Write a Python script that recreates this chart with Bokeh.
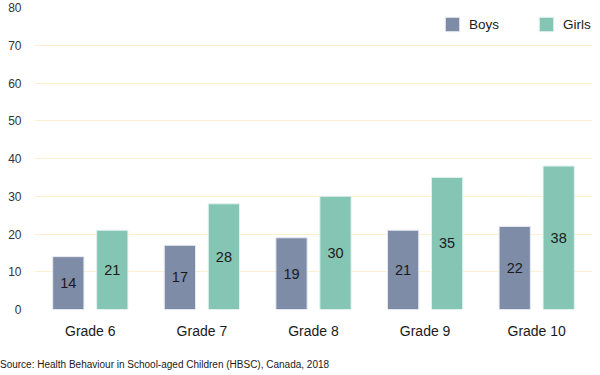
from bokeh.plotting import figure
from bokeh.models import ColumnDataSource, Range1d, FactorRange, Legend, LegendItem, Div
from bokeh.layouts import column
from bokeh.transform import dodge
from bokeh.core.properties import value
from bokeh.embed import file_html
from bokeh.resources import INLINE

grades = ["Grade 6", "Grade 7", "Grade 8", "Grade 9", "Grade 10"]
boys = [14, 17, 19, 21, 22]
girls = [21, 28, 30, 35, 38]
y_ticks = [0, 10, 20, 30, 40, 50, 60, 70, 80]
source_note = "Source: Health Behaviour in School-aged Children (HBSC), Canada, 2018"

BOYS_COLOR = "#7f8ca8"
GIRLS_COLOR = "#84c5b4"
FONT = "Liberation Sans"

src = ColumnDataSource(dict(
    grade=grades,
    boys=boys,
    girls=girls,
    boys_mid=[v / 2 for v in boys],
    girls_mid=[v / 2 for v in girls],
    boys_txt=[str(v) for v in boys],
    girls_txt=[str(v) for v in girls],
))

p = figure(width=600, height=355, x_range=FactorRange(*grades), y_range=Range1d(0, 80),
           output_backend="svg", toolbar_location=None,
           min_border_left=34, min_border_right=8, min_border_top=7, min_border_bottom=46)
p.outline_line_color = None
p.background_fill_color = "white"

off = 0.197
bw = 0.28
rb = p.vbar(x=dodge("grade", -off, range=p.x_range), top="boys", width=bw, source=src,
            fill_color=BOYS_COLOR, line_color="#e6e9ef", line_width=1)
rg = p.vbar(x=dodge("grade", off, range=p.x_range), top="girls", width=bw, source=src,
            fill_color=GIRLS_COLOR, line_color="#e3f1ed", line_width=1)

p.text(x=dodge("grade", -off, range=p.x_range), y="boys_mid", text="boys_txt", source=src,
       text_align="center", text_baseline="middle", text_font=value(FONT),
       text_font_size="14.5px", text_color="#1a1a1a")
p.text(x=dodge("grade", off, range=p.x_range), y="girls_mid", text="girls_txt", source=src,
       text_align="center", text_baseline="middle", text_font=value(FONT),
       text_font_size="14.5px", text_color="#1a1a1a")

p.xgrid.grid_line_color = None
p.ygrid.grid_line_color = "#fcefd2"
p.ygrid.grid_line_width = 1
p.yaxis.ticker = y_ticks

for ax in (p.xaxis[0], p.yaxis[0]):
    ax.axis_line_color = None
    ax.major_tick_line_color = None
    ax.minor_tick_line_color = None
    ax.major_label_text_font = FONT

p.yaxis.major_label_text_font_size = "12px"
p.yaxis.major_label_text_color = "#333333"
p.yaxis.major_label_standoff = 7
p.xaxis.major_label_text_font_size = "14px"
p.xaxis.major_label_text_color = "#1a1a1a"
p.xaxis.major_label_standoff = 7

legend = Legend(items=[LegendItem(label="Boys", renderers=[rb]),
                       LegendItem(label="Girls", renderers=[rg])],
                orientation="horizontal", location=(409, 276),
                border_line_color=None, background_fill_alpha=0,
                padding=0, margin=0, spacing=38,
                glyph_width=18, glyph_height=18, label_height=18,
                label_standoff=8,
                label_text_font=FONT, label_text_font_size="13.5px",
                label_text_color="#1a1a1a")
p.add_layout(legend)

note = Div(text=source_note, width=600, height=20, margin=(0, 0, 0, 0),
           styles={"font-family": FONT, "font-size": "10px", "color": "#1a1a1a",
                   "line-height": "20px", "white-space": "nowrap"})

layout = column(p, note, spacing=0)
open("out.html", "w").write(file_html(layout, INLINE))
